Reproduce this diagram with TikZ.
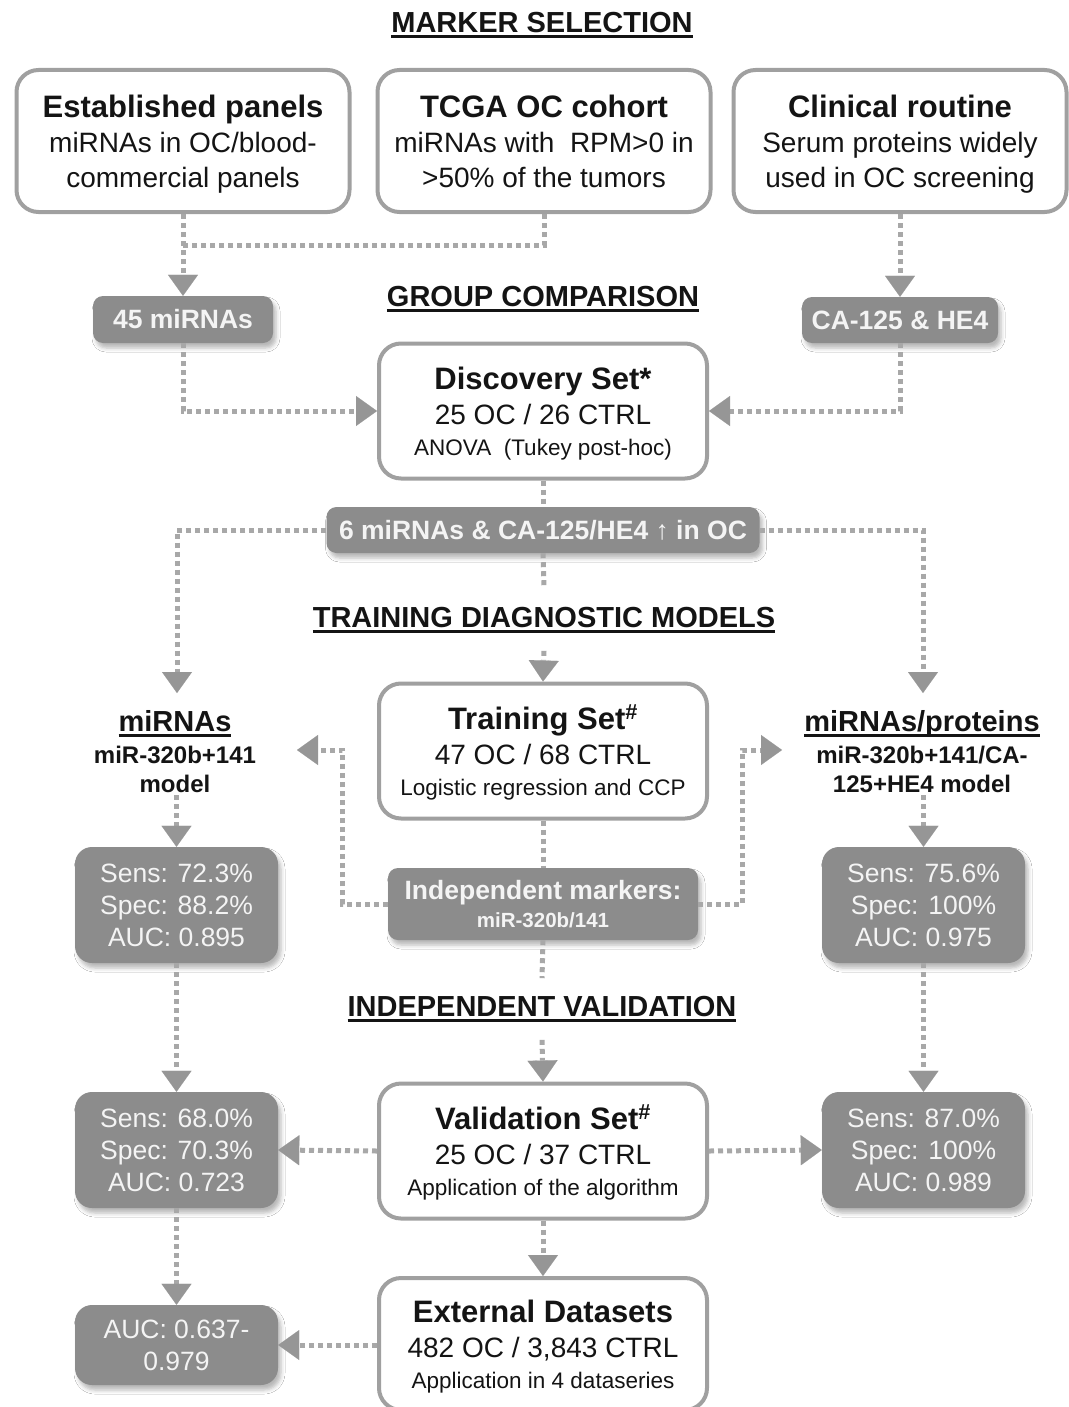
\documentclass[tikz,border=0pt]{standalone}
\usepackage{fontspec}
\setmainfont{Liberation Sans}
\usetikzlibrary{arrows.meta,shadows.blur}
\definecolor{bord}{RGB}{160,160,160}
\definecolor{gfill}{RGB}{140,140,140}
\definecolor{dotc}{RGB}{168,168,168}
\definecolor{arrc}{RGB}{150,150,150}
\definecolor{txtw}{RGB}{244,244,244}
\definecolor{txtk}{RGB}{20,20,20}
\newsavebox\ulbox
\newcommand\ulx[1]{\sbox\ulbox{#1}\rlap{\rule[-5pt]{\wd\ulbox}{2.5pt}}\usebox\ulbox}
\newcommand\fntA{\fontsize{31}{35}\selectfont\bfseries}
\newcommand\fntB{\fontsize{28}{35}\selectfont}
\newcommand\fntC{\fontsize{22.5}{31}\selectfont}
\newcommand\fntH{\fontsize{29}{34}\selectfont\bfseries}
\newcommand\fntS{\fontsize{26.5}{32}\selectfont}
\newcommand\fntG{\fontsize{26.5}{32}\selectfont\bfseries}
\newcommand\fntM{\fontsize{24}{29}\selectfont\bfseries}
\newcommand\fntI{\fontsize{26.5}{28}\selectfont\bfseries}
\newcommand\fntJ{\fontsize{20.5}{28}\selectfont\bfseries}
\newcommand\tstrut{\rule{0pt}{29pt}}
\newcommand\bstrut{\rule[-7pt]{0pt}{7pt}}
\begin{document}
\begin{tikzpicture}[x=1pt,y=-1pt,
  wbox/.style={draw=bord, line width=4pt, rounded corners=22pt, fill=white,
    minimum width=328pt, minimum height=135pt, align=center, inner sep=0pt,
    text=txtk, font=\fntB},
  gbox/.style={fill=gfill, rounded corners=10pt, text=txtw, align=center,
    inner sep=0pt,
    blur shadow={shadow xshift=3pt, shadow yshift=-5pt, shadow blur radius=4pt, shadow opacity=28}},
  sbox/.style={gbox, rounded corners=17pt, minimum width=203pt, minimum height=116pt, font=\fntS},
  head/.style={font=\fntH, text=txtk, inner xsep=2pt, inner ysep=18pt},
  mtext/.style={font=\fntM, text=txtk, align=center, inner sep=2pt},
  conn/.style={draw=dotc, line width=5pt, dash pattern=on 5pt off 4pt},
  arr/.style={conn, -{Triangle[width=30pt,length=21pt,line width=0.1pt,color=arrc,fill=arrc]}}
]
\useasboundingbox (0,0) rectangle (1068,1407);
\fill[white] (0,0) rectangle (1068,1407);

% headings
\node[head] (h1) at (542,25) {\ulx{MARKER SELECTION}};
\node[head] (h2) at (543,299) {\ulx{GROUP COMPARISON}};
\node[head] (h3) at (544,620) {\ulx{TRAINING DIAGNOSTIC MODELS}};
\node[head] (h4) at (542,1009) {\ulx{INDEPENDENT VALIDATION}};

% top boxes
\node[wbox, minimum width=333pt, minimum height=142pt] (b1) at (183,141)
  {{\fntA\tstrut Established panels}\\miRNAs in OC/blood-\\commercial panels\bstrut};
\node[wbox, minimum width=333pt, minimum height=142pt] (b2) at (544,141)
  {{\fntA\tstrut TCGA OC cohort}\\miRNAs with\ \ RPM>0 in\\>50\% of the tumors\bstrut};
\node[wbox, minimum width=333pt, minimum height=142pt] (b3) at (900,141)
  {{\fntA\tstrut Clinical routine}\\Serum proteins widely\\used in OC screening\bstrut};

\node[gbox, minimum width=180pt, minimum height=47pt, font=\fntG] (m45) at (183,319.5) {45 miRNAs};
\node[gbox, minimum width=196pt, minimum height=46pt, font=\fntG] (ca) at (900,320) {CA-125 \& HE4};

\node[wbox] (disc) at (543,411)
  {{\fntA\tstrut Discovery Set*}\\25 OC / 26 CTRL\\[-4pt]{\fntC ANOVA\ \ (Tukey post-hoc)}\bstrut};

\node[gbox, minimum width=433pt, minimum height=46pt, font=\fntG] (six) at (543,530)
  {6 miRNAs \& CA-125/HE4 ↑ in OC};

\node[mtext] (lm) at (175,752) {{\fntH\ulx{miRNAs}}\\[3pt]miR-320b+141\\model};
\node[mtext] (rm) at (922,752) {{\fntH\ulx{miRNAs/proteins}}\\[3pt]miR-320b+141/CA-\\125+HE4 model};
\coordinate (lmtop) at (177,693);
\coordinate (rmtop) at (923,693);

\node[wbox] (tr) at (543,751)
  {{\fntA\tstrut Training Set\textsuperscript{\#}}\\47 OC / 68 CTRL\\[-4pt]{\fntC Logistic regression and CCP}\bstrut};

\node[gbox, minimum width=310pt, minimum height=72pt, font=\fntJ] (im) at (543,904)
  {{\fntI Independent markers:}\\miR-320b/141};
\coordinate (lt) at (297,750);
\coordinate (rt) at (782,750);

\node[sbox] (ls1) at (176.5,905) {Sens: 72.3\%\\Spec: 88.2\%\\AUC: 0.895};
\node[sbox] (rs1) at (923.5,905) {Sens: 75.6\%\\Spec: 100\%\\AUC: 0.975};
\node[sbox] (ls2) at (176.5,1150) {Sens: 68.0\%\\Spec: 70.3\%\\AUC: 0.723};
\node[sbox] (rs2) at (923.5,1150) {Sens: 87.0\%\\Spec: 100\%\\AUC: 0.989};
\node[sbox, minimum height=80pt] (ls3) at (176.5,1345) {AUC: 0.637-\\0.979};

\node[wbox] (val) at (543,1151)
  {{\fntA\tstrut Validation Set\textsuperscript{\#}}\\25 OC / 37 CTRL\\[-4pt]{\fntC Application of the algorithm}\bstrut};
\node[wbox, minimum height=132pt] (ext) at (543,1344)
  {{\fntA\tstrut External Datasets}\\482 OC / 3,843 CTRL\\[-4pt]{\fntC Application in 4 dataseries}\bstrut};

% connectors
\coordinate (j1) at (183,245);
\draw[arr] (b1.south) -- (m45.north);
\draw[conn] (b2.south) |- (j1);
\draw[arr] (b3.south) -- (ca.north);
\draw[arr] (m45.south) |- (disc.west);
\draw[arr] (ca.south) |- (disc.east);
\draw[conn] (disc.south) -- (six.north);
\draw[arr] (six.west) -| (lmtop);
\draw[arr] (six.east) -| (rmtop);
\draw[conn] (six.south) -- (h3.north);
\draw[arr] (h3.south) -- (tr.north);
\draw[conn] (tr.south) -- (im.north);
\draw[arr] (im.west) -- ++(-45,0) |- (lt);
\draw[arr] (im.east) -- ++(44,0) |- (rt);
\draw[conn] (im.south) -- (h4.north);
\draw[arr] (h4.south) -- (val.north);
\draw[arr] (lm.south -| ls1.north) -- (ls1.north);
\draw[arr] (rm.south -| rs1.north) -- (rs1.north);
\draw[arr] (ls1.south) -- (ls2.north);
\draw[arr] (rs1.south) -- (rs2.north);
\draw[arr] (val.west) -- (ls2.east);
\draw[arr] (val.east) -- (rs2.west);
\draw[arr] (val.south) -- (ext.north);
\draw[arr] (ls2.south) -- (ls3.north);
\draw[arr] (ext.west |- ls3.east) -- (ls3.east);
\end{tikzpicture}
\end{document}
